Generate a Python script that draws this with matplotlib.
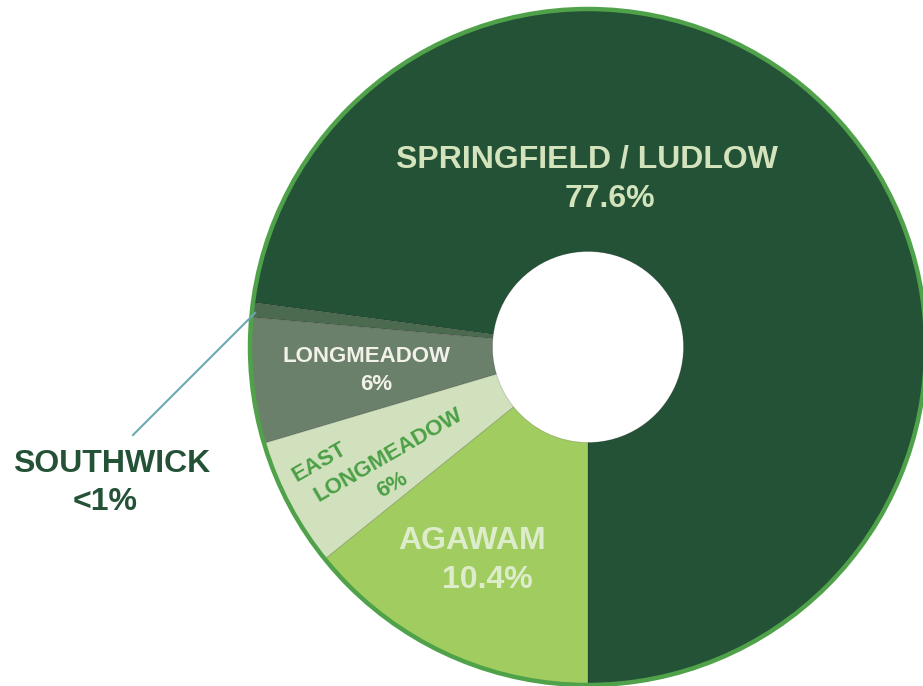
import matplotlib.pyplot as plt
from matplotlib.patches import Circle

plt.rcParams['font.family'] = ['Liberation Sans', 'DejaVu Sans']

# Slice shares as drawn (share of the ring, counterclockwise from 6 o'clock)
towns = ['SPRINGFIELD / LUDLOW', 'SOUTHWICK', 'LONGMEADOW', 'EAST LONGMEADOW', 'AGAWAM']
slice_shares = [72.9, 0.7, 6.0, 6.2, 14.2]
share_labels = ['77.6%', '<1%', '6%', '6%', '10.4%']
slice_colors = ['#245237', '#4b6a4f', '#6b806b', '#d1e1bd', '#a1cd60']

big = 23
small = 16

# Figure in pixel-like coordinates
fig = plt.figure(figsize=(9.23, 6.86), dpi=100)
ax = fig.add_axes([0, 0, 1, 1])

cx, cy, r_out, r_in = 588, 339, 338, 95.5

ax.pie(slice_shares, colors=slice_colors, startangle=270, counterclock=True,
       center=(cx, cy), radius=r_out, frame=True,
       wedgeprops=dict(width=r_out - r_in, edgecolor=(0, 0, 0, 0.18), linewidth=0.6))
ax.set_xlim(0, 923)
ax.set_ylim(0, 686)
ax.set_aspect('equal')
ax.axis('off')

# Outer green ring
ax.add_patch(Circle((cx, cy), r_out, facecolor='none', edgecolor='#4fa249', linewidth=3.2, zorder=5))

# Labels
ax.text(587, 686 - 159, towns[0], ha='center', va='center', fontsize=big,
        fontweight='bold', color='#d3e3bb')
ax.text(610, 686 - 199, share_labels[0], ha='center', va='center', fontsize=big,
        fontweight='bold', color='#d3e3bb')

ax.text(472, 686 - 541, towns[4], ha='center', va='center', fontsize=big,
        fontweight='bold', color='#ddecca')
ax.text(487, 686 - 580, share_labels[4], ha='center', va='center', fontsize=big,
        fontweight='bold', color='#ddecca')

ax.text(367, 686 - 356, towns[2], ha='center', va='center', fontsize=small,
        fontweight='bold', color='#f2f2ea')
ax.text(376, 686 - 385, share_labels[2], ha='center', va='center', fontsize=small,
        fontweight='bold', color='#f2f2ea')

# East Longmeadow, rotated along the slice
ax.text(320, 686 - 462, 'EAST', ha='center', va='center', fontsize=small, fontweight='bold',
        color='#4a9f45', rotation=30, rotation_mode='anchor')
ax.text(388, 686 - 455, 'LONGMEADOW', ha='center', va='center', fontsize=small, fontweight='bold',
        color='#4a9f45', rotation=30, rotation_mode='anchor')
ax.text(392, 686 - 485, share_labels[3], ha='center', va='center', fontsize=small, fontweight='bold',
        color='#4a9f45', rotation=30, rotation_mode='anchor')

# Southwick callout
ax.plot([255, 133], [686 - 313, 686 - 435], color='#6ba8b3', linewidth=1.5, zorder=6)
ax.text(112, 686 - 464, towns[1], ha='center', va='center', fontsize=big,
        fontweight='bold', color='#245237')
ax.text(105, 686 - 502, share_labels[1], ha='center', va='center', fontsize=big,
        fontweight='bold', color='#245237')

plt.savefig('out.png', dpi=100)
